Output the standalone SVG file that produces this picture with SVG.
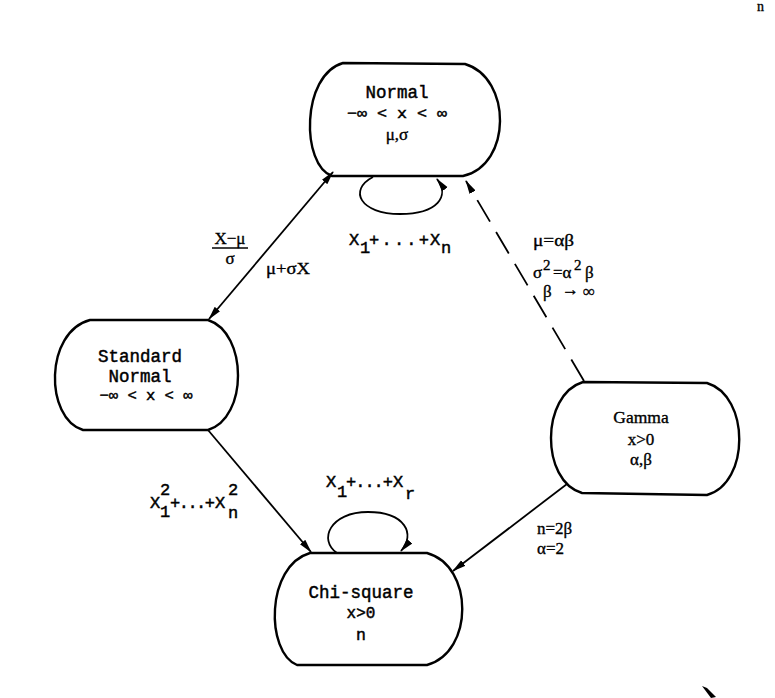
<svg xmlns="http://www.w3.org/2000/svg" width="775" height="698" viewBox="0 0 775 698">
<style>
.node{fill:none;stroke:#000;stroke-width:2.4;stroke-linejoin:round}
.edge{fill:none;stroke:#000;stroke-width:1.8}
.mono{font-family:"Liberation Mono","DejaVu Sans Mono",monospace;fill:#000;stroke:#000;stroke-width:0.45}
.serif{font-family:"Liberation Serif","DejaVu Serif",serif;fill:#000;stroke:#000;stroke-width:0.35}
.c{text-anchor:middle}
</style>
<defs>
<marker id="ah" viewBox="0 0 14 8" refX="13" refY="4" markerWidth="14" markerHeight="8" markerUnits="userSpaceOnUse" orient="auto-start-reverse">
<path d="M0,0.5 L14,4 L0,7.5 Z" fill="#000"/>
</marker>
</defs>
<rect width="775" height="698" fill="#fff"/>

<g id="node-normal">
<path class="node" d="M343,63 L465,64 C512,78 512,165 463,176 L332,176 C301,165 301,75 343,63 Z"/>
<text class="mono c" x="397" y="98" font-size="17.5">Normal</text>
<text class="mono c" x="397" y="118" font-size="15" textLength="100" lengthAdjust="spacingAndGlyphs">−∞ &lt; x &lt; ∞</text>
<text class="serif c" x="397" y="140" font-size="17">μ,σ</text>
</g>

<g id="node-standard-normal">
<path class="node" d="M90,320 L208,320 C248,333 248,418 208,430 L83,430 C44.5,418 44.5,332 90,320 Z"/>
<text class="mono c" x="140" y="362" font-size="17.5">Standard</text>
<text class="mono c" x="140" y="382" font-size="17.5">Normal</text>
<text class="mono c" x="146" y="400" font-size="15" textLength="93" lengthAdjust="spacingAndGlyphs">−∞ &lt; x &lt; ∞</text>
</g>

<g id="node-gamma">
<path class="node" d="M583,382 L707,383 C750,396 750,483 707,495 L582,493 C540.5,481 540.5,395 583,382 Z"/>
<text class="serif c" x="641" y="423" font-size="17.5">Gamma</text>
<text class="serif c" x="641" y="445" font-size="17">x&gt;0</text>
<text class="serif c" x="641" y="465" font-size="17">α,β</text>
</g>

<g id="node-chi-square">
<path class="node" d="M310,553 L427,553 C474,566 474,652 427,665 L297,665 C265.5,652 265.5,566 310,553 Z"/>
<text class="mono c" x="361" y="598" font-size="17.5">Chi-square</text>
<text class="mono c" x="361" y="618" font-size="16">x&gt;0</text>
<text class="mono c" x="361" y="640" font-size="16.5">n</text>
</g>

<g id="connectors">
<line class="edge" x1="209" y1="319" x2="333" y2="172" marker-start="url(#ah)" marker-end="url(#ah)"/>
<path class="edge" d="M373,177 C348,190 360,214 400,214 C438,214 450,196 437,179" marker-end="url(#ah)"/>
<line class="edge" x1="208" y1="430" x2="311" y2="552" marker-end="url(#ah)"/>
<path class="edge" d="M337,553 C318,540 330,512 368,512 C405,512 416,534 401,551" marker-end="url(#ah)"/>
<line class="edge" x1="567" y1="484" x2="453" y2="571" marker-end="url(#ah)"/>
<line class="edge" x1="584" y1="381" x2="466" y2="181" stroke-dasharray="25 12" marker-end="url(#ah)"/>
</g>

<g id="labels">
<text class="mono" font-size="17" y="245"><tspan x="349">X</tspan><tspan x="360" y="253">1</tspan><tspan x="369" y="245" textLength="60" lengthAdjust="spacing">+...+</tspan><tspan x="430">X</tspan><tspan x="441" y="253">n</tspan></text>

<text class="serif c" x="230" y="244" font-size="17">X−μ</text>
<line x1="212" y1="248" x2="248" y2="248" stroke="#000" stroke-width="1.6"/>
<text class="serif c" x="230" y="264" font-size="17">σ</text>
<text class="serif" x="266" y="274" font-size="17" textLength="44" lengthAdjust="spacingAndGlyphs">μ+σX</text>

<text class="serif" x="533" y="246" font-size="17" textLength="41" lengthAdjust="spacingAndGlyphs">μ=αβ</text>
<text class="serif" font-size="17" y="278"><tspan x="533">σ</tspan><tspan x="543" y="270" font-size="15">2</tspan><tspan x="553" y="278">=α</tspan><tspan x="574" y="270" font-size="15">2</tspan><tspan x="585" y="278">β</tspan></text>
<text class="serif" font-size="17" y="297"><tspan x="543">β</tspan><tspan x="562" y="295">→</tspan><tspan x="583" y="297">∞</tspan></text>

<text class="mono" font-size="17" y="508"><tspan x="150">X</tspan><tspan x="160" y="495">2</tspan><tspan x="160" y="517">1</tspan><tspan x="170" y="508" textLength="45" lengthAdjust="spacing">+...+</tspan><tspan x="215">X</tspan><tspan x="228" y="495">2</tspan><tspan x="228" y="518">n</tspan></text>

<text class="mono" font-size="17" y="487"><tspan x="326">X</tspan><tspan x="337" y="497">1</tspan><tspan x="346" y="487" textLength="47" lengthAdjust="spacing">+...+</tspan><tspan x="393">X</tspan><tspan x="405" y="499">r</tspan></text>

<text class="serif" x="537" y="534" font-size="17">n=2β</text>
<text class="serif" x="537" y="554" font-size="17">α=2</text>

<text class="serif" x="757" y="11" font-size="14">n</text>
</g>
<path d="M702,686 L707,688 L716,697 L711,698 Z" fill="#000"/>
</svg>
